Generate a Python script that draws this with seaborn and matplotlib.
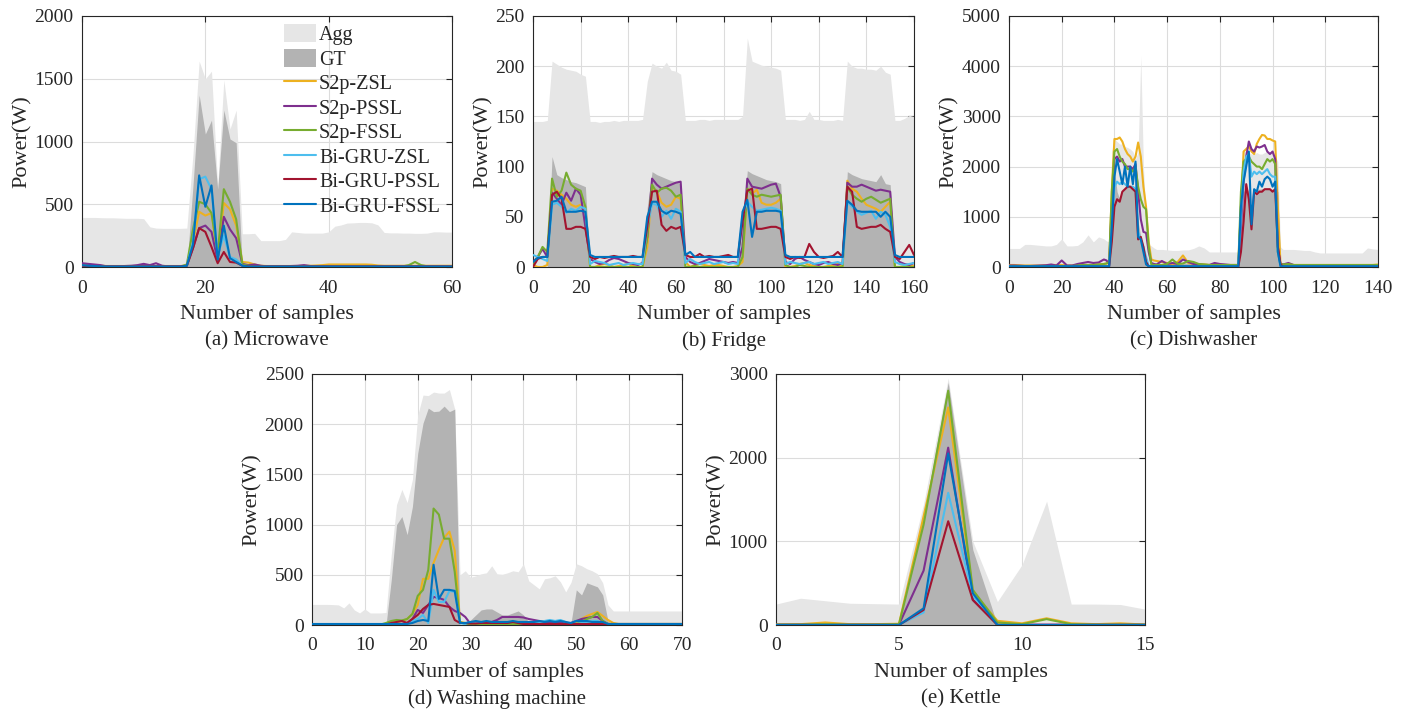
import numpy as np
import matplotlib.pyplot as plt
import seaborn as sns
from matplotlib.patches import Patch
from matplotlib.lines import Line2D

# =========================
# Style
# =========================
sns.set_style("white")
plt.rcParams['font.family'] = ['Liberation Serif', 'DejaVu Serif']

# =========================
# Series names / colours
# =========================
methods = ['S2p-ZSL', 'S2p-PSSL', 'S2p-FSSL', 'Bi-GRU-ZSL', 'Bi-GRU-PSSL', 'Bi-GRU-FSSL']
colors = ['#EDB120', '#7E2F8E', '#77AC30', '#4DBEEE', '#A2142F', '#0072BD']
agg_color = '#E6E6E6'
gt_color = '#B3B3B3'

# =========================
# (a) Microwave, samples 0..60
# =========================
mw_x = list(range(0, 61))
mw_agg = [395, 395, 395, 393, 392, 392, 390, 388, 388, 388,
          385, 320, 310, 308, 308, 308, 308, 310, 900, 1640,
          1500, 1560, 650, 1490, 1100, 1250, 265, 265, 268, 210,
          210, 210, 210, 220, 280, 275, 270, 270, 270, 270,
          280, 325, 335, 350, 352, 355, 355, 352, 335, 275,
          272, 272, 270, 270, 268, 268, 270, 280, 280, 278, 278]
mw_gt = [0, 0, 0, 0, 0, 0, 0, 0, 0, 0,
         0, 0, 0, 0, 0, 0, 0, 0, 650, 1370,
         1060, 1170, 620, 1250, 1020, 990, 0, 0, 0, 0,
         0, 0, 0, 0, 0, 0, 0, 0, 0, 0,
         0, 0, 0, 0, 0, 0, 0, 0, 0, 0,
         0, 0, 0, 0, 0, 0, 0, 0, 0, 0, 0]
mw_s2p_zsl = [20, 15, 12, 10, 8, 8, 8, 8, 8, 8,
              8, 8, 8, 8, 8, 8, 8, 10, 200, 440,
              410, 430, 80, 510, 460, 330, 40, 35, 20, 10,
              8, 8, 8, 8, 8, 8, 10, 10, 12, 15,
              20, 20, 20, 20, 20, 20, 20, 18, 12, 10,
              10, 10, 10, 10, 10, 10, 10, 10, 10, 10, 10]
mw_s2p_pssl = [30, 25, 20, 15, 5, 5, 5, 8, 10, 15,
               25, 15, 30, 10, 5, 5, 5, 10, 150, 310,
               330, 280, 50, 400, 300, 230, 25, 15, 20, 10,
               5, 5, 5, 5, 8, 10, 15, 8, 5, 5,
               5, 5, 5, 5, 5, 5, 5, 5, 5, 5,
               5, 5, 5, 5, 5, 5, 5, 5, 5, 5, 5]
mw_s2p_fssl = [5, 5, 5, 5, 5, 5, 5, 5, 5, 5,
               5, 5, 5, 5, 5, 5, 5, 20, 300, 520,
               500, 430, 110, 620, 520, 380, 20, 10, 5, 5,
               5, 5, 5, 5, 5, 5, 5, 5, 5, 5,
               5, 5, 5, 5, 5, 5, 5, 5, 5, 5,
               5, 5, 5, 15, 40, 15, 5, 5, 5, 5, 8]
mw_bigru_zsl = [10, 8, 5, 5, 5, 5, 5, 5, 5, 5,
                5, 5, 5, 5, 5, 5, 5, 10, 200, 700,
                720, 620, 90, 250, 80, 60, 10, 5, 5, 5,
                5, 5, 5, 5, 5, 5, 5, 5, 5, 5,
                5, 5, 5, 5, 5, 5, 5, 5, 5, 5,
                5, 5, 5, 5, 5, 5, 5, 5, 5, 5, 5]
mw_bigru_pssl = [10, 8, 5, 5, 5, 5, 5, 5, 5, 5,
                 5, 5, 5, 5, 5, 5, 5, 10, 150, 310,
                 280, 160, 30, 120, 40, 35, 10, 5, 5, 5,
                 5, 5, 5, 5, 5, 5, 5, 5, 5, 5,
                 5, 5, 5, 5, 5, 5, 5, 5, 5, 5,
                 5, 5, 5, 5, 5, 5, 5, 5, 5, 5, 5]
mw_bigru_fssl = [15, 10, 8, 5, 3, 3, 3, 3, 3, 3,
                 3, 3, 3, 3, 3, 3, 3, 10, 180, 730,
                 480, 650, 60, 330, 70, 40, 10, 3, 3, 3,
                 3, 3, 3, 3, 3, 3, 3, 3, 3, 3,
                 3, 3, 3, 3, 3, 3, 3, 3, 3, 3,
                 3, 3, 3, 3, 3, 3, 3, 3, 3, 3, 3]

# =========================
# (b) Fridge, every 2nd sample 0..160
# =========================
fr_x = list(range(0, 161, 2))
fr_agg = [145, 145, 145, 146, 205, 202, 199, 197, 196, 195,
          192, 190, 145, 145, 144, 145, 145, 146, 145, 146,
          146, 146, 146, 147, 185, 203, 200, 198, 204, 196,
          195, 192, 146, 146, 146, 147, 147, 146, 147, 147,
          147, 147, 147, 147, 150, 228, 205, 203, 201, 200,
          199, 198, 196, 147, 147, 147, 146, 147, 155, 147,
          147, 146, 146, 146, 147, 146, 205, 200, 198, 198,
          197, 197, 196, 200, 194, 192, 146, 146, 148, 151,
          150]
fr_gt = [0, 0, 0, 0, 110, 92, 89, 87, 85, 84,
         82, 80, 0, 0, 0, 0, 0, 0, 0, 0,
         0, 0, 0, 0, 60, 95, 92, 90, 88, 86,
         85, 83, 0, 0, 0, 0, 0, 0, 0, 0,
         0, 0, 0, 0, 40, 96, 93, 91, 89, 87,
         86, 85, 83, 0, 0, 0, 0, 0, 0, 0,
         0, 0, 0, 0, 0, 0, 95, 92, 90, 88,
         87, 86, 85, 92, 83, 82, 0, 0, 0, 0,
         0]
fr_s2p_zsl = [2, 0, 0, 2, 78, 76, 72, 68, 62, 60,
              62, 55, 0, 0, 2, 3, 2, 0, 1, 2,
              3, 1, 0, 0, 20, 80, 75, 64, 60, 62,
              70, 68, 5, 0, 2, 3, 2, 1, 2, 2,
              1, 0, 0, 1, 5, 78, 73, 77, 64, 62,
              62, 64, 68, 0, 0, 1, 3, 4, 2, 1,
              0, 0, 1, 2, 3, 1, 86, 78, 75, 68,
              62, 60, 58, 55, 60, 65, 0, 0, 1, 2,
              1]
fr_s2p_pssl = [5, 10, 18, 10, 74, 68, 62, 74, 66, 78,
               72, 40, 8, 5, 3, 4, 7, 9, 8, 6,
               4, 3, 2, 4, 30, 88, 82, 78, 80, 82,
               84, 85, 10, 5, 3, 4, 6, 8, 7, 6,
               5, 4, 5, 4, 20, 88, 80, 79, 78, 80,
               82, 83, 70, 5, 3, 8, 10, 7, 5, 3,
               2, 4, 5, 3, 2, 4, 84, 80, 80, 82,
               80, 78, 76, 77, 76, 75, 10, 5, 3, 2,
               4]
fr_s2p_fssl = [3, 10, 20, 15, 88, 70, 76, 94, 82, 78,
               76, 60, 0, 0, 0, 0, 0, 0, 0, 0,
               0, 0, 0, 0, 30, 82, 74, 78, 79, 76,
               70, 72, 0, 0, 1, 0, 0, 0, 0, 0,
               0, 0, 0, 0, 10, 78, 72, 70, 72, 71,
               70, 71, 72, 2, 0, 0, 2, 1, 0, 0,
               0, 0, 0, 0, 0, 0, 80, 72, 68, 65,
               68, 70, 67, 64, 66, 68, 0, 0, 0, 0,
               0]
fr_bigru_zsl = [12, 10, 8, 6, 62, 64, 60, 54, 58, 56,
                60, 58, 3, 6, 5, 4, 2, 3, 4, 2,
                3, 4, 3, 3, 40, 63, 62, 50, 56, 48,
                58, 55, 4, 8, 5, 3, 4, 5, 3, 4,
                5, 3, 4, 3, 50, 65, 60, 56, 57, 58,
                59, 58, 56, 3, 5, 4, 3, 4, 5, 3,
                4, 5, 3, 4, 5, 3, 65, 60, 55, 52,
                54, 56, 48, 55, 52, 40, 5, 3, 2, 3,
                4]
fr_bigru_pssl = [0, 8, 10, 10, 72, 75, 68, 38, 38, 40,
                 40, 38, 10, 8, 10, 9, 10, 11, 10, 10,
                 10, 11, 10, 10, 40, 75, 76, 42, 36, 40,
                 38, 40, 12, 10, 10, 13, 10, 11, 10, 10,
                 11, 12, 10, 10, 45, 76, 78, 38, 38, 39,
                 40, 40, 38, 10, 8, 10, 9, 10, 23, 15,
                 10, 9, 10, 11, 15, 10, 80, 75, 40, 38,
                 39, 40, 40, 42, 38, 35, 10, 8, 15, 22,
                 12]
fr_bigru_fssl = [5, 9, 10, 10, 65, 66, 70, 55, 55, 55,
                 56, 55, 12, 10, 10, 10, 10, 10, 10, 10,
                 10, 10, 10, 10, 50, 65, 65, 56, 53, 56,
                 55, 53, 12, 15, 10, 10, 10, 10, 10, 10,
                 10, 10, 10, 10, 55, 67, 30, 55, 55, 56,
                 56, 56, 55, 12, 10, 10, 10, 10, 10, 10,
                 10, 10, 10, 10, 10, 10, 66, 62, 56, 55,
                 55, 55, 55, 50, 55, 50, 12, 10, 10, 10,
                 10]

# =========================
# (c) Dishwasher: every 2nd sample when idle, every sample when running
# =========================
dw_x = (list(range(0, 37, 2)) + list(range(37, 56)) + list(range(56, 87, 2))
        + list(range(87, 105)) + list(range(106, 141, 2)))
dw_agg = [370, 370, 370, 450, 450, 440, 430, 420, 420, 450, 560, 420, 420, 430, 500, 640, 500, 600, 560,
          520, 500, 2300, 2550, 2500, 2450, 2450, 2400, 2380, 2350, 2300, 2150, 2300, 4200, 2000, 1000, 450, 420, 380,
          350, 350, 340, 330, 330, 340, 340, 370, 420, 380, 300, 300, 300, 300, 300, 300,
          300, 1800, 2300, 2300, 2280, 2250, 2250, 2280, 2250, 2250, 2280, 2300, 2300, 2250, 2200, 2100, 400, 350,
          350, 350, 340, 330, 330, 300, 280, 280, 280, 280, 280, 280, 280, 280, 280, 380, 360, 350]
dw_gt = [0, 0, 0, 0, 0, 0, 0, 0, 0, 0, 0, 0, 0, 0, 0, 0, 0, 0, 0,
         0, 0, 900, 1950, 1500, 1350, 1500, 1580, 1600, 1600, 1580, 1550, 900, 600, 300, 60, 0, 0, 0,
         0, 60, 80, 80, 80, 80, 80, 80, 80, 80, 70, 70, 70, 70, 60, 40,
         0, 800, 1500, 1600, 1500, 800, 1400, 1550, 1550, 1560, 1560, 1560, 1550, 1550, 1550, 1500, 0, 0,
         0, 0, 0, 0, 0, 0, 0, 0, 0, 0, 0, 0, 0, 0, 0, 0, 0, 0]
dw_s2p_zsl = [40, 40, 35, 30, 30, 30, 30, 35, 40, 40, 40, 30, 30, 40, 40, 40, 40, 50, 60,
              70, 80, 1500, 2550, 2550, 2580, 2500, 2350, 2250, 2200, 2100, 2200, 2480, 2200, 1600, 1200, 500, 150, 130,
              120, 100, 80, 50, 100, 230, 80, 60, 50, 50, 40, 40, 40, 40, 40, 40,
              40, 1200, 2300, 2350, 2400, 2300, 2250, 2450, 2550, 2630, 2620, 2550, 2550, 2520, 2500, 1200, 60, 50,
              40, 40, 40, 40, 40, 40, 40, 40, 40, 40, 40, 40, 40, 40, 40, 40, 40, 50]
dw_s2p_pssl = [30, 30, 25, 20, 20, 25, 30, 35, 50, 30, 130, 30, 30, 60, 80, 100, 80, 90, 150,
               130, 60, 1200, 2150, 2200, 2100, 2150, 2000, 2000, 2000, 1950, 2050, 1500, 950, 700, 680, 300, 80, 60,
               50, 120, 60, 80, 60, 150, 100, 60, 50, 40, 40, 80, 60, 50, 40, 40,
               40, 800, 1700, 2200, 2500, 2350, 2300, 2400, 2380, 2400, 2430, 2300, 2250, 2300, 2150, 400, 60, 50,
               80, 40, 30, 30, 30, 30, 30, 30, 30, 30, 30, 30, 30, 30, 30, 30, 30, 30]
dw_s2p_fssl = [20, 20, 20, 15, 15, 15, 20, 20, 20, 20, 20, 20, 20, 30, 40, 40, 40, 50, 60,
               70, 100, 1500, 2300, 2350, 2200, 2100, 2050, 1950, 1950, 1900, 2000, 1600, 1350, 1200, 1150, 400, 50, 40,
               40, 40, 60, 150, 60, 70, 120, 100, 60, 50, 40, 40, 40, 40, 40, 40,
               40, 1500, 2100, 2150, 2200, 2100, 2050, 2000, 2000, 1950, 2050, 2150, 2100, 2150, 2050, 300, 50, 50,
               60, 40, 40, 40, 40, 40, 40, 40, 40, 40, 40, 40, 40, 40, 40, 40, 40, 40]
dw_bigru_zsl = [10, 10, 10, 10, 10, 10, 10, 10, 10, 10, 10, 10, 10, 10, 10, 10, 10, 10, 10,
                10, 10, 800, 1600, 1700, 1650, 1700, 1650, 1600, 1600, 1600, 1550, 700, 550, 400, 200, 20, 10, 10,
                10, 10, 10, 10, 10, 10, 10, 10, 10, 10, 10, 10, 10, 10, 10, 10,
                10, 1000, 1900, 2200, 2250, 1800, 1900, 1850, 1900, 1850, 1900, 1950, 1850, 1800, 1800, 300, 10, 10,
                10, 10, 10, 10, 10, 10, 10, 10, 10, 10, 10, 10, 10, 10, 10, 10, 10, 10]
dw_bigru_pssl = [5, 5, 5, 5, 5, 5, 5, 5, 5, 5, 5, 5, 5, 5, 5, 5, 5, 5, 5,
                 5, 10, 500, 1200, 1350, 1300, 1500, 1550, 1600, 1600, 1550, 1500, 550, 600, 400, 100, 10, 5, 5,
                 5, 5, 5, 5, 5, 5, 5, 5, 5, 5, 5, 5, 5, 5, 5, 5,
                 5, 300, 900, 1650, 1350, 750, 1500, 1450, 1500, 1500, 1550, 1550, 1550, 1500, 1550, 400, 50, 10,
                 5, 5, 5, 5, 5, 5, 5, 5, 5, 5, 5, 5, 5, 5, 5, 5, 5, 5]
dw_bigru_fssl = [15, 15, 15, 15, 15, 15, 15, 15, 15, 15, 15, 15, 15, 15, 15, 15, 15, 15, 15,
                 15, 15, 800, 1800, 2150, 1900, 1650, 2000, 1600, 2000, 1650, 2100, 600, 550, 300, 50, 15, 15, 15,
                 15, 15, 15, 15, 15, 15, 15, 15, 15, 15, 15, 15, 15, 15, 15, 15,
                 15, 1200, 1700, 2000, 2300, 850, 1550, 1500, 1700, 1600, 1750, 1800, 1750, 1600, 1700, 300, 15, 15,
                 15, 15, 15, 15, 15, 15, 15, 15, 15, 15, 15, 15, 15, 15, 15, 15, 15, 15]

# =========================
# (d) Washing machine, samples 0..70
# =========================
wm_x = list(range(0, 71))
wm_agg = [205, 205, 205, 205, 203, 200, 170, 220, 150, 120,
          160, 120, 120, 120, 125, 700, 1200, 1350, 1220, 1450,
          2090, 2290, 2285, 2320, 2310, 2310, 2345, 2150, 500, 540,
          475, 490, 510, 520, 590, 510, 505, 520, 540, 530,
          610, 440, 400, 360, 460, 470, 490, 430, 330, 425,
          610, 590, 560, 540, 510, 420, 200, 140, 140, 140,
          140, 140, 140, 140, 140, 140, 140, 140, 140, 140, 140]
wm_gt = [0, 0, 0, 0, 0, 0, 0, 0, 0, 0,
         0, 0, 0, 0, 0, 450, 1000, 1080, 900, 1180,
         1710, 2010, 2160, 2125, 2130, 2180, 2125, 2150, 0, 0,
         50, 100, 150, 160, 160, 130, 100, 100, 120, 140,
         100, 30, 20, 20, 40, 50, 40, 60, 30, 20,
         350, 300, 420, 400, 380, 300, 40, 0, 0, 0,
         0, 0, 0, 0, 0, 0, 0, 0, 0, 0, 0]
wm_s2p_zsl = [5, 5, 5, 5, 5, 5, 5, 5, 5, 5,
              5, 5, 5, 5, 10, 20, 30, 40, 60, 110,
              200, 460, 460, 620, 750, 870, 930, 740, 30, 20,
              10, 10, 20, 20, 15, 10, 10, 10, 10, 10,
              10, 10, 10, 10, 10, 10, 10, 10, 10, 10,
              30, 60, 90, 110, 130, 90, 50, 20, 10, 10,
              10, 10, 10, 10, 10, 10, 10, 10, 10, 10, 10]
wm_s2p_pssl = [5, 5, 5, 5, 5, 5, 5, 5, 5, 5,
               5, 5, 5, 5, 5, 5, 5, 10, 20, 60,
               150, 120, 200, 280, 270, 250, 180, 140, 120, 80,
               10, 0, 20, 20, 30, 50, 80, 80, 80, 80,
               75, 60, 50, 40, 30, 30, 20, 20, 20, 20,
               40, 60, 70, 80, 80, 40, 10, 5, 5, 5,
               5, 5, 5, 5, 5, 5, 5, 5, 5, 5, 5]
wm_s2p_fssl = [5, 5, 5, 5, 5, 5, 5, 5, 5, 5,
               5, 5, 5, 5, 20, 40, 50, 45, 60, 110,
               290, 350, 550, 1160, 1100, 860, 860, 530, 30, 10,
               10, 10, 10, 10, 10, 10, 10, 10, 10, 10,
               10, 10, 10, 10, 10, 10, 10, 10, 10, 10,
               10, 30, 60, 80, 120, 40, 10, 10, 10, 10,
               10, 10, 10, 10, 10, 10, 10, 10, 10, 10, 10]
wm_bigru_zsl = [5, 5, 5, 5, 5, 5, 5, 5, 5, 5,
                5, 5, 5, 5, 5, 5, 5, 5, 10, 40,
                60, 100, 20, 350, 230, 230, 340, 330, 20, 10,
                30, 20, 20, 30, 30, 20, 20, 30, 30, 30,
                30, 20, 30, 30, 40, 50, 40, 50, 30, 10,
                40, 30, 30, 40, 40, 20, 10, 5, 5, 5,
                5, 5, 5, 5, 5, 5, 5, 5, 5, 5, 5]
wm_bigru_pssl = [5, 5, 5, 5, 5, 5, 5, 5, 5, 5,
                 5, 5, 5, 5, 5, 20, 30, 40, 20, 60,
                 100, 160, 200, 210, 200, 190, 180, 50, 20, 20,
                 15, 15, 20, 20, 20, 20, 20, 20, 30, 20,
                 10, 10, 10, 10, 10, 10, 10, 10, 10, 10,
                 10, 10, 10, 10, 10, 10, 10, 10, 10, 10,
                 10, 10, 10, 10, 10, 10, 10, 10, 10, 10, 10]
wm_bigru_fssl = [10, 10, 10, 10, 10, 10, 10, 10, 10, 10,
                 10, 10, 10, 10, 10, 10, 10, 10, 10, 20,
                 40, 50, 40, 600, 260, 350, 350, 340, 20, 20,
                 30, 40, 30, 40, 30, 30, 30, 30, 40, 30,
                 30, 30, 30, 40, 30, 40, 30, 40, 30, 20,
                 40, 40, 40, 30, 30, 30, 10, 10, 10, 10,
                 10, 10, 10, 10, 10, 10, 10, 10, 10, 10, 10]

# =========================
# (e) Kettle, samples 0..15
# =========================
kt_x = list(range(0, 16))
kt_agg = [250, 320, 290, 260, 255, 250, 1450, 2950, 1000, 280, 720, 1480, 250, 250, 245, 190]
kt_gt = [0, 0, 0, 0, 0, 0, 1300, 2900, 900, 0, 0, 0, 0, 0, 0, 0]
kt_s2p_zsl = [5, 10, 30, 10, 10, 15, 1300, 2600, 400, 50, 20, 80, 20, 10, 20, 5]
kt_s2p_pssl = [5, 5, 5, 5, 5, 5, 650, 2120, 300, 5, 5, 5, 5, 5, 5, 5]
kt_s2p_fssl = [5, 5, 10, 5, 5, 10, 1200, 2800, 420, 30, 10, 70, 10, 5, 5, 5]
kt_bigru_zsl = [0, 0, 0, 0, 0, 0, 150, 1580, 350, 0, 0, 0, 0, 0, 0, 0]
kt_bigru_pssl = [0, 0, 0, 0, 0, 0, 180, 1240, 300, 0, 0, 0, 0, 0, 0, 0]
kt_bigru_fssl = [0, 0, 0, 0, 0, 0, 200, 2050, 380, 0, 0, 0, 0, 0, 0, 0]

# =========================
# Figure
# =========================
W, H = 1414, 709
fig = plt.figure(figsize=(W / 100, H / 100), dpi=100)


def add_ax(left, top, width, height):
    return fig.add_axes([left / W, 1 - (top + height) / H, width / W, height / H])


def draw_panel(ax, x, agg, gt, preds, xticks, yticks, caption):
    ax.fill_between(x, agg, color=agg_color, linewidth=0, zorder=1)
    ax.fill_between(x, gt, color=gt_color, linewidth=0, zorder=2)
    for y, c in zip(preds, colors):
        sns.lineplot(x=x, y=y, ax=ax, color=c, linewidth=1.5, legend=False, zorder=3)
    ax.set_xlim(xticks[0], xticks[-1])
    ax.set_ylim(yticks[0], yticks[-1])
    ax.set_xticks(xticks)
    ax.set_yticks(yticks)
    ax.grid(True, color='#DCDCDC', linewidth=0.8)
    ax.set_axisbelow(True)
    ax.tick_params(direction='in', top=True, right=True, length=4, width=0.8,
                   labelsize=14, colors='#262626')
    ax.tick_params(axis='x', pad=9)
    ax.tick_params(axis='y', pad=6)
    for s in ax.spines.values():
        s.set_color('#262626')
        s.set_linewidth(0.8)
    ax.set_xlabel('Number of samples', fontsize=16, labelpad=5.5)
    ax.set_ylabel('Power(W)', fontsize=16, labelpad=2)
    ax.text(0.5, -0.295, caption, transform=ax.transAxes, ha='center', va='center', fontsize=15)


ax_a = add_ax(82, 16, 370, 251)
ax_b = add_ax(533, 16, 381, 251)
ax_c = add_ax(1009, 16, 369, 251)
ax_d = add_ax(312, 374, 370, 251)
ax_e = add_ax(776, 374, 369, 251)

draw_panel(ax_a, mw_x, mw_agg, mw_gt,
           [mw_s2p_zsl, mw_s2p_pssl, mw_s2p_fssl, mw_bigru_zsl, mw_bigru_pssl, mw_bigru_fssl],
           [0, 20, 40, 60], [0, 500, 1000, 1500, 2000], '(a) Microwave')
draw_panel(ax_b, fr_x, fr_agg, fr_gt,
           [fr_s2p_zsl, fr_s2p_pssl, fr_s2p_fssl, fr_bigru_zsl, fr_bigru_pssl, fr_bigru_fssl],
           list(range(0, 161, 20)), [0, 50, 100, 150, 200, 250], '(b) Fridge')
draw_panel(ax_c, dw_x, dw_agg, dw_gt,
           [dw_s2p_zsl, dw_s2p_pssl, dw_s2p_fssl, dw_bigru_zsl, dw_bigru_pssl, dw_bigru_fssl],
           list(range(0, 141, 20)), [0, 1000, 2000, 3000, 4000, 5000], '(c) Dishwasher')
draw_panel(ax_d, wm_x, wm_agg, wm_gt,
           [wm_s2p_zsl, wm_s2p_pssl, wm_s2p_fssl, wm_bigru_zsl, wm_bigru_pssl, wm_bigru_fssl],
           list(range(0, 71, 10)), [0, 500, 1000, 1500, 2000, 2500], '(d) Washing machine')
draw_panel(ax_e, kt_x, kt_agg, kt_gt,
           [kt_s2p_zsl, kt_s2p_pssl, kt_s2p_fssl, kt_bigru_zsl, kt_bigru_pssl, kt_bigru_fssl],
           [0, 5, 10, 15], [0, 1000, 2000, 3000], '(e) Kettle')

# legend (only in panel a)
handles = [Patch(facecolor=agg_color, edgecolor='none'), Patch(facecolor=gt_color, edgecolor='none')]
handles += [Line2D([0], [0], color=c, linewidth=1.5) for c in colors]
ax_a.legend(handles, ['Agg', 'GT'] + methods, loc='upper right', bbox_to_anchor=(1.0, 1.015),
            frameon=False, fontsize=14.5, handlelength=1.6, handleheight=1.0,
            handletextpad=0.15, labelspacing=0.18, borderaxespad=0.2)

fig.savefig('out.png', dpi=100)
